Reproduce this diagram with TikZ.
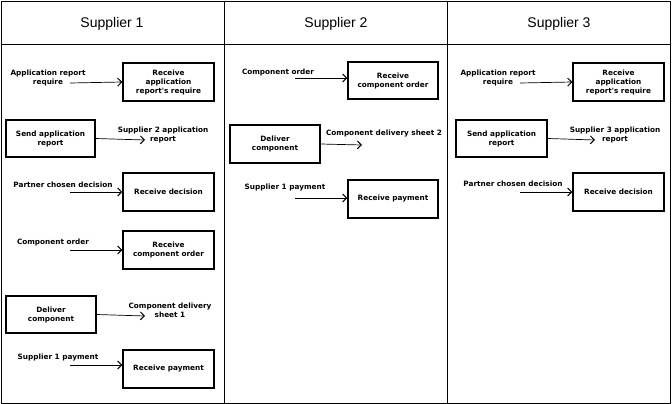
\documentclass[tikz,border=0pt]{standalone}
\usetikzlibrary{arrows.meta}
\usepackage{fontspec}
\setmainfont{Liberation Sans}
\newfontfamily\lblfont{DejaVu Sans}
\begin{document}
\begin{tikzpicture}[x=1pt,y=-1pt,
  box/.style={draw,line width=1.3pt,align=center,font=\lblfont\bfseries\fontsize{7.3}{9}\selectfont,inner sep=0pt},
  lbl/.style={align=center,font=\lblfont\bfseries\fontsize{7.3}{9}\selectfont,inner sep=0pt},
  hdr/.style={font=\fontsize{14}{16}\selectfont},
  arr/.style={-{Straight Barb[length=4pt,width=8pt,line width=1pt]},line width=0.7pt}]
\useasboundingbox (0,0) rectangle (672,404);
\draw[line width=0.8pt] (1,1) rectangle (670,403);
\draw[line width=0.8pt] (1,44) -- (670,44) (224,1) -- (224,403) (447,1) -- (447,403);
\node[hdr] (h1) at (112,24) {Supplier 1};
\node[hdr] (h2) at (336,24) {Supplier 2};
\node[hdr] (h3) at (559,24) {Supplier 3};
% column 1
\node[box,minimum width=91pt,minimum height=38pt] (b1) at (168.5,82) {Receive\\application\\report's require};
\node[lbl] (t1) at (48,78) {Application report\\require};
\coordinate (s1) at (70,83);
\draw[arr] (s1) -- (b1.west);
\node[box,minimum width=89pt,minimum height=37pt] (b2) at (50.5,138.5) {Send application\\report};
\node[lbl] (t2) at (163,135) {Supplier 2 application\\report};
\coordinate (e2) at (145,140);
\draw[arr] (b2.east) -- (e2);
\node[lbl] (t3) at (63,185) {Partner chosen decision};
\node[box,minimum width=91pt,minimum height=38pt] (b3) at (168.5,192) {Receive decision};
\coordinate (s3) at (70,192);
\draw[arr] (s3) -- (b3.west);
\node[lbl] (t4) at (53,242) {Component order};
\node[box,minimum width=91pt,minimum height=38pt] (b4) at (168.5,250) {Receive\\component order};
\coordinate (s4) at (70,250);
\draw[arr] (s4) -- (b4.west);
\node[box,minimum width=90pt,minimum height=37pt] (b5) at (51,314.5) {Deliver\\component};
\node[lbl] (t5) at (170,310) {Component delivery\\sheet 1};
\coordinate (e5) at (145,316);
\draw[arr] (b5.east) -- (e5);
\node[lbl] (t6) at (58,358) {Supplier 1 payment};
\node[box,minimum width=91pt,minimum height=38pt] (b6) at (168.5,369) {Receive payment};
\coordinate (s6) at (70,365);
\draw[arr] (s6) -- (b6.west|-s6);
% column 2
\node[lbl] (u1) at (278,72) {Component order};
\node[box,minimum width=90pt,minimum height=37pt] (c1) at (393,80.5) {Receive\\component order};
\coordinate (v1) at (295,78);
\draw[arr] (v1) -- (c1.west|-v1);
\node[box,minimum width=90pt,minimum height=38pt] (c2) at (275,144) {Deliver\\component};
\node[lbl] (u2) at (384,134) {Component delivery sheet 2};
\coordinate (w2) at (362,145);
\draw[arr] (c2.east) -- (w2);
\node[lbl] (u3) at (285,188) {Supplier 1 payment};
\node[box,minimum width=90pt,minimum height=38pt] (c3) at (393,199) {Receive payment};
\coordinate (v3) at (295,198);
\draw[arr] (v3) -- (c3.west|-v3);
% column 3
\node[box,minimum width=91pt,minimum height=38pt] (d1) at (618.5,82) {Receive\\application\\report's require};
\node[lbl] (x1) at (498,78) {Application report\\require};
\coordinate (y1) at (520,83);
\draw[arr] (y1) -- (d1.west);
\node[box,minimum width=91pt,minimum height=37pt] (d2) at (501.5,138.5) {Send application\\report};
\node[lbl] (x2) at (615,135) {Supplier 3 application\\report};
\coordinate (z2) at (595,140);
\draw[arr] (d2.east) -- (z2);
\node[lbl] (x3) at (513,184) {Partner chosen decision};
\node[box,minimum width=91pt,minimum height=38pt] (d3) at (618.5,192) {Receive decision};
\coordinate (y3) at (520,192);
\draw[arr] (y3) -- (d3.west);
\end{tikzpicture}
\end{document}
